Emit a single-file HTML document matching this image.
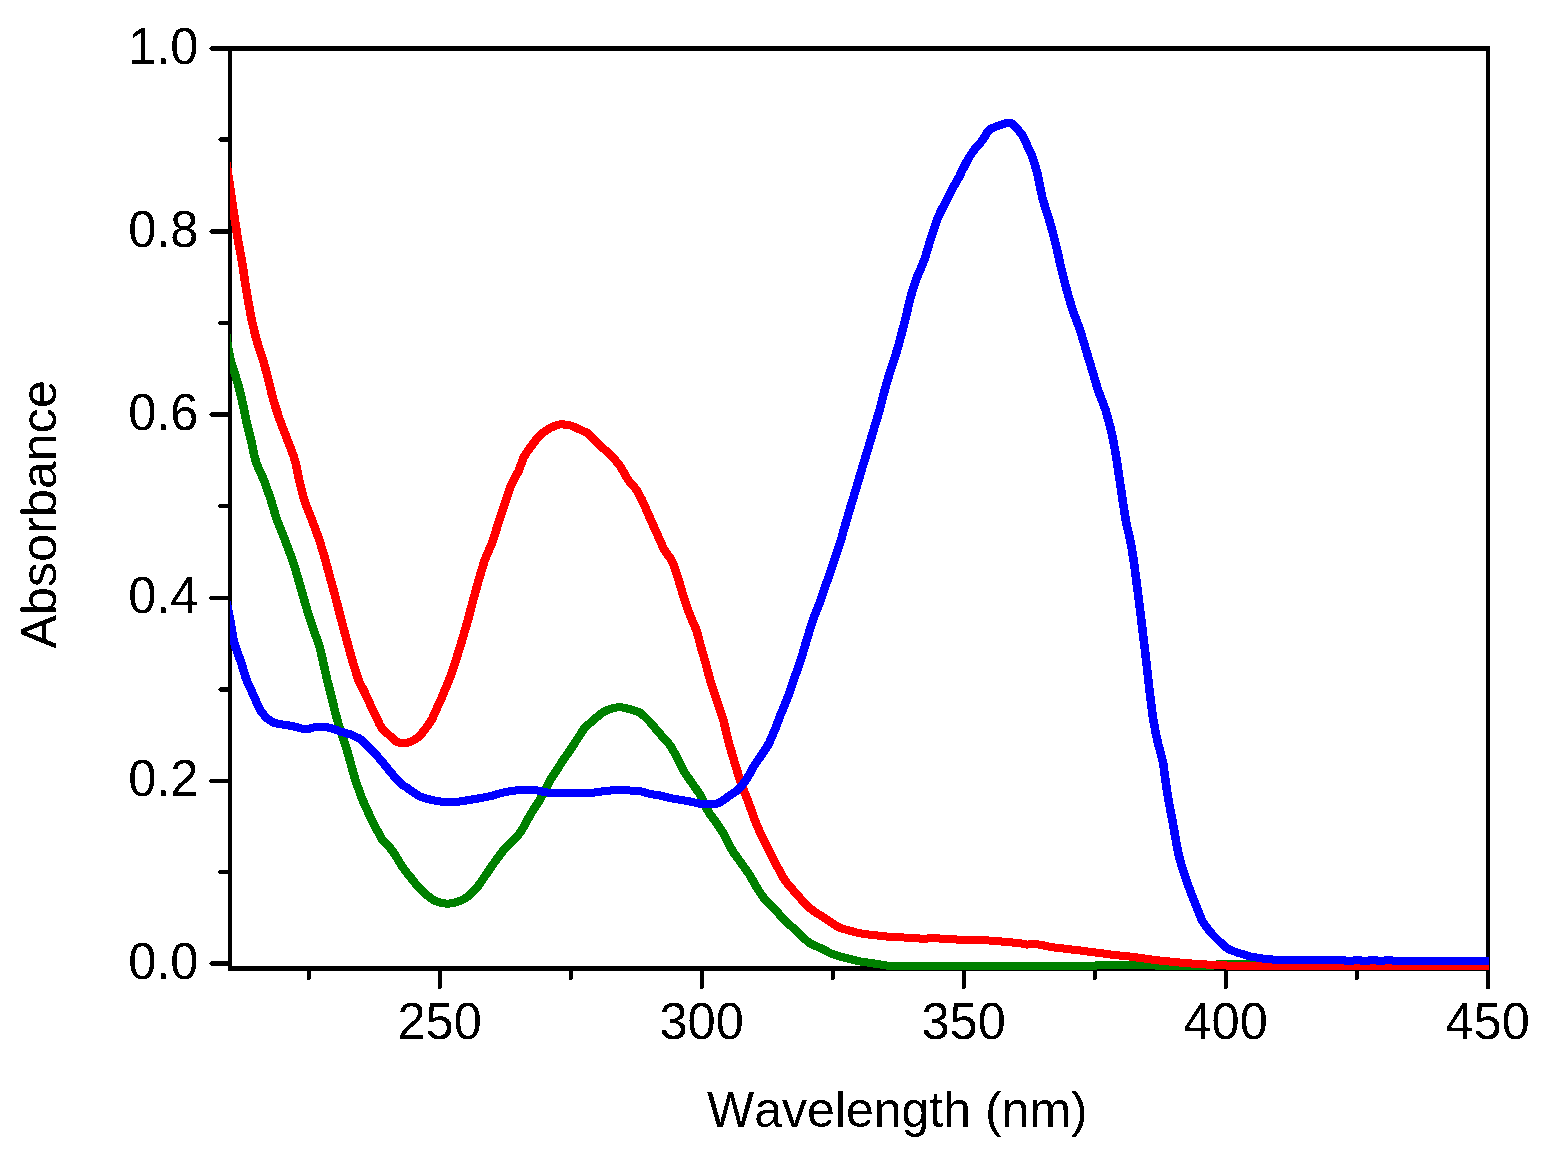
<!DOCTYPE html>
<html lang="en">
<head>
<meta charset="utf-8">
<title>Absorbance vs Wavelength</title>
<style>
html,body{margin:0;padding:0;background:#fff;}
body{width:1550px;height:1157px;overflow:hidden;}
svg{display:block;}
svg text{font-family:"Liberation Sans",Arial,Helvetica,sans-serif;font-size:50.6px;fill:#000;font-kerning:none;}
svg text.ttl{font-size:50.3px;}
svg text.xl{font-size:50px;}
.curve{fill:none;stroke-width:8;stroke-linejoin:round;stroke-linecap:butt;}
</style>
</head>
<body>
<svg width="1550" height="1157" viewBox="0 0 1550 1157">
<rect x="0" y="0" width="1550" height="1157" fill="#fff"/>
<defs>
<clipPath id="plotclip"><rect x="230" y="46" width="1259" height="926"/></clipPath>
<filter id="alias" x="0" y="0" width="1550" height="1157" filterUnits="userSpaceOnUse" color-interpolation-filters="sRGB"><feComponentTransfer><feFuncA type="discrete" tableValues="0 1"/></feComponentTransfer></filter>
</defs>
<g fill="#000" shape-rendering="crispEdges">
<rect x="228" y="46" width="1262" height="5"/>
<rect x="228" y="966" width="1262" height="5"/>
<rect x="228" y="46" width="4" height="925"/>
<rect x="1486" y="46" width="4" height="943"/>
<rect x="211" y="46" width="17" height="5"/>
<rect x="210" y="47" width="1" height="3"/>
<rect x="209" y="48" width="1" height="1"/>
<rect x="220" y="137" width="8" height="5"/>
<rect x="219" y="138" width="1" height="3"/>
<rect x="218" y="139" width="1" height="1"/>
<rect x="211" y="229" width="17" height="5"/>
<rect x="210" y="230" width="1" height="3"/>
<rect x="209" y="231" width="1" height="1"/>
<rect x="219" y="321" width="9" height="4"/>
<rect x="218" y="322" width="1" height="2"/>
<rect x="211" y="412" width="17" height="5"/>
<rect x="210" y="413" width="1" height="3"/>
<rect x="209" y="414" width="1" height="1"/>
<rect x="219" y="504" width="9" height="4"/>
<rect x="218" y="505" width="1" height="2"/>
<rect x="210" y="596" width="18" height="4"/>
<rect x="209" y="597" width="1" height="2"/>
<rect x="220" y="687" width="8" height="5"/>
<rect x="219" y="688" width="1" height="3"/>
<rect x="218" y="689" width="1" height="1"/>
<rect x="210" y="779" width="18" height="4"/>
<rect x="209" y="780" width="1" height="2"/>
<rect x="219" y="870" width="9" height="4"/>
<rect x="218" y="871" width="1" height="2"/>
<rect x="211" y="961" width="17" height="5"/>
<rect x="210" y="962" width="1" height="3"/>
<rect x="209" y="963" width="1" height="1"/>
<rect x="307" y="970" width="4" height="9"/>
<rect x="307" y="979" width="3" height="1"/>
<rect x="438" y="970" width="4" height="18"/>
<rect x="438" y="988" width="3" height="1"/>
<rect x="569" y="970" width="4" height="9"/>
<rect x="569" y="979" width="3" height="1"/>
<rect x="700" y="970" width="4" height="18"/>
<rect x="700" y="988" width="3" height="1"/>
<rect x="831" y="970" width="4" height="9"/>
<rect x="831" y="979" width="3" height="1"/>
<rect x="962" y="970" width="4" height="18"/>
<rect x="962" y="988" width="3" height="1"/>
<rect x="1093" y="970" width="4" height="9"/>
<rect x="1093" y="979" width="3" height="1"/>
<rect x="1224" y="970" width="4" height="18"/>
<rect x="1224" y="988" width="3" height="1"/>
<rect x="1355" y="970" width="4" height="9"/>
<rect x="1355" y="979" width="3" height="1"/>

</g>
<g clip-path="url(#plotclip)" shape-rendering="crispEdges">
<polyline id="cg" class="curve" stroke="#008000" points="214.4,288.0 217.0,289.5 219.6,302.3 222.2,314.9 224.9,327.4 227.5,346.0 230.1,359.5 232.7,368.3 235.3,376.1 238.0,385.1 240.6,395.4 243.2,407.2 245.8,420.2 248.4,430.8 251.1,441.6 253.7,454.7 256.3,463.7 258.9,469.7 261.5,475.4 264.2,481.5 266.8,488.9 269.4,496.4 272.0,504.5 274.6,513.3 277.3,521.6 279.9,528.1 282.5,534.6 285.1,541.1 287.7,548.1 290.4,555.1 293.0,562.6 295.6,571.2 298.2,579.9 300.8,589.2 303.5,598.5 306.1,607.4 308.7,616.2 311.3,624.2 313.9,631.6 316.6,639.0 319.2,646.6 321.8,657.3 324.4,669.1 327.0,680.4 329.7,691.0 332.3,701.5 334.9,712.0 337.5,721.9 340.1,729.8 342.8,737.7 345.4,746.0 348.0,754.7 350.6,763.8 353.2,773.7 355.9,782.6 358.5,789.7 361.1,796.8 363.7,803.2 366.3,808.9 369.0,814.7 371.6,820.3 374.2,825.3 376.8,830.2 379.4,835.2 382.1,839.7 384.7,842.2 387.3,845.0 389.9,848.0 392.5,851.6 395.2,855.4 397.8,859.8 400.4,864.1 403.0,868.0 405.6,871.7 408.3,874.9 410.9,878.1 413.5,881.5 416.1,884.6 418.7,887.3 421.4,890.1 424.0,892.8 426.6,895.1 429.2,897.2 431.8,899.1 434.5,900.6 437.1,901.8 439.7,902.5 442.3,903.1 444.9,903.5 447.6,903.7 450.2,903.4 452.8,902.9 455.4,902.3 458.0,901.5 460.7,900.5 463.3,899.2 465.9,897.6 468.5,895.7 471.1,893.4 473.8,890.8 476.4,887.8 479.0,884.5 481.6,880.8 484.2,876.8 486.9,872.9 489.5,869.0 492.1,865.3 494.7,861.6 497.3,858.0 500.0,854.4 502.6,851.0 505.2,847.8 507.8,845.0 510.4,842.4 513.1,840.0 515.7,837.4 518.3,834.5 520.9,831.2 523.5,826.7 526.2,821.5 528.8,816.9 531.4,812.5 534.0,808.4 536.6,804.4 539.3,800.3 541.9,795.6 544.5,790.8 547.1,785.7 549.7,780.5 552.4,776.3 555.0,772.3 557.6,768.3 560.2,764.2 562.8,760.2 565.5,756.4 568.1,752.6 570.7,748.8 573.3,744.8 575.9,740.8 578.6,736.7 581.2,732.6 583.8,728.7 586.4,726.0 589.0,723.7 591.7,721.3 594.3,719.0 596.9,716.9 599.5,714.8 602.1,712.7 604.8,711.1 607.4,710.0 610.0,709.0 612.6,708.2 615.2,707.7 617.9,707.3 620.5,707.2 623.1,707.6 625.7,708.3 628.3,708.9 631.0,709.6 633.6,710.4 636.2,711.2 638.8,712.1 641.4,713.8 644.1,716.4 646.7,719.0 649.3,721.6 651.9,724.6 654.5,727.7 657.2,730.9 659.8,734.0 662.4,736.9 665.0,739.8 667.6,742.7 670.3,745.9 672.9,750.5 675.5,755.3 678.1,760.5 680.7,765.7 683.4,771.0 686.0,775.1 688.6,778.7 691.2,782.3 693.8,786.1 696.5,789.8 699.1,793.6 701.7,798.4 704.3,804.0 706.9,809.6 709.6,814.1 712.2,817.5 714.8,821.0 717.4,824.7 720.0,828.7 722.7,832.7 725.3,837.5 727.9,842.6 730.5,847.7 733.1,852.3 735.8,856.0 738.4,859.6 741.0,863.2 743.6,866.8 746.2,870.4 748.9,874.2 751.5,878.8 754.1,883.4 756.7,887.9 759.3,891.9 762.0,895.8 764.6,899.4 767.2,902.2 769.8,904.8 772.4,907.4 775.1,910.1 777.7,912.9 780.3,915.8 782.9,918.7 785.5,921.4 788.2,923.8 790.8,926.1 793.4,928.5 796.0,931.0 798.6,933.5 801.3,936.0 803.9,938.5 806.5,940.7 809.1,942.8 811.7,944.4 814.4,945.7 817.0,946.7 819.6,947.8 822.2,949.0 824.8,950.4 827.5,951.8 830.1,953.1 832.7,954.2 835.3,955.0 837.9,955.9 840.6,956.7 843.2,957.4 845.8,958.1 848.4,958.7 851.0,959.4 853.7,960.0 856.3,960.7 858.9,961.3 861.5,961.7 864.1,962.1 866.8,962.5 869.4,962.8 872.0,963.2 874.6,963.7 877.2,964.1 879.9,964.5 882.5,964.9 885.1,965.3 887.7,965.7 890.3,965.9 893.0,965.9 895.6,965.8 898.2,965.7 900.8,965.7 903.4,965.7 906.1,965.9 908.7,965.9 911.3,966.0 913.9,966.0 916.5,966.0 919.2,966.0 921.8,966.0 924.4,966.0 927.0,966.0 929.6,966.0 932.3,966.0 934.9,966.0 937.5,966.0 940.1,966.0 942.7,966.0 945.4,966.0 948.0,966.0 950.6,966.0 953.2,966.0 955.8,966.0 958.5,966.0 961.1,966.0 963.7,966.0 966.3,966.0 968.9,966.0 971.6,966.0 974.2,966.0 976.8,966.0 979.4,966.0 982.0,966.0 984.7,966.0 987.3,966.0 989.9,966.0 992.5,966.0 995.1,966.0 997.8,966.0 1000.4,966.0 1003.0,966.0 1005.6,966.0 1008.2,966.0 1010.9,966.0 1013.5,966.0 1016.1,966.0 1018.7,966.0 1021.3,966.0 1024.0,966.0 1026.6,966.0 1029.2,966.0 1031.8,966.0 1034.4,966.0 1037.1,966.0 1039.7,966.0 1042.3,966.0 1044.9,966.0 1047.5,966.0 1050.2,966.0 1052.8,966.0 1055.4,966.0 1058.0,966.0 1060.6,966.0 1063.3,966.0 1065.9,966.0 1068.5,966.0 1071.1,966.0 1073.7,966.0 1076.4,966.0 1079.0,966.0 1081.6,966.0 1084.2,966.0 1086.8,966.0 1089.5,966.0 1092.1,966.0 1094.7,965.7 1097.3,965.2 1099.9,965.0 1102.6,965.0 1105.2,965.0 1107.8,965.0 1110.4,965.0 1113.0,965.0 1115.7,965.0 1118.3,965.0 1120.9,965.0 1123.5,965.0 1126.1,965.0 1128.8,965.0 1131.4,965.0 1134.0,965.0 1136.6,965.0 1139.2,965.0 1141.9,965.0 1144.5,965.0 1147.1,965.0 1149.7,965.1 1152.3,965.3 1155.0,965.5 1157.6,965.8 1160.2,966.0 1162.8,966.0 1165.4,966.0 1168.1,966.0 1170.7,966.0 1173.3,966.0 1175.9,966.0 1178.5,966.0 1181.2,966.0 1183.8,966.0 1186.4,966.0 1189.0,966.0 1191.6,966.0 1194.3,966.0 1196.9,966.0 1199.5,966.0 1202.1,966.0 1204.7,966.0 1207.4,966.0 1210.0,966.0 1212.6,965.6 1215.2,964.8 1217.8,964.3 1220.5,964.2 1223.1,964.2 1225.7,964.2 1228.3,964.2 1230.9,964.2 1233.6,964.2 1236.2,964.2 1238.8,964.2 1241.4,964.2 1244.0,964.2 1246.7,964.2 1249.3,964.2 1251.9,964.4 1254.5,965.0 1257.1,965.7 1259.8,966.0 1262.4,966.0 1265.0,966.0 1267.6,966.0 1270.2,966.0 1272.9,966.0 1275.5,966.0 1278.1,966.0 1280.7,966.0 1283.3,966.0 1286.0,966.0 1288.6,966.0 1291.2,966.0 1293.8,966.0 1296.4,966.0 1299.1,966.0 1301.7,966.0 1304.3,966.0 1306.9,966.0 1309.5,966.0 1312.2,966.0 1314.8,966.0 1317.4,966.0 1320.0,966.0 1322.6,966.0 1325.3,966.0 1327.9,966.0 1330.5,966.0 1333.1,966.0 1335.7,966.0 1338.4,966.0 1341.0,966.0 1343.6,966.0 1346.2,966.0 1348.8,966.0 1351.5,966.0 1354.1,966.0 1356.7,966.0 1359.3,966.0 1361.9,966.0 1364.6,966.0 1367.2,966.0 1369.8,966.0 1372.4,966.0 1375.0,966.0 1377.7,966.0 1380.3,966.0 1382.9,966.0 1385.5,966.0 1388.1,966.0 1390.8,966.0 1393.4,966.0 1396.0,966.0 1398.6,966.0 1401.2,966.0 1403.9,966.0 1406.5,966.0 1409.1,966.0 1411.7,966.0 1414.3,966.0 1417.0,966.0 1419.6,966.0 1422.2,966.0 1424.8,966.0 1427.4,966.0 1430.1,966.0 1432.7,966.0 1435.3,966.0 1437.9,966.0 1440.5,966.0 1443.2,966.0 1445.8,966.0 1448.4,966.0 1451.0,966.0 1453.6,966.0 1456.3,966.0 1458.9,966.0 1461.5,966.0 1464.1,966.0 1466.7,966.0 1469.4,966.0 1472.0,966.0 1474.6,966.0 1477.2,966.0 1479.8,966.0 1482.5,966.0 1485.1,966.0 1487.7,966.0 1490.3,966.0 1492.9,966.0 1495.6,966.0"/>
<use href="#cg" x="0.6"/>
<polyline id="cr" class="curve" stroke="#ff0000" points="214.4,100.0 217.0,102.1 219.6,120.1 222.2,138.0 224.9,155.7 227.5,172.6 230.1,189.4 232.7,207.7 235.3,224.9 238.0,242.1 240.6,255.5 243.2,271.3 245.8,289.1 248.4,304.0 251.1,318.6 253.7,329.8 256.3,340.2 258.9,348.3 261.5,356.3 264.2,365.1 266.8,374.8 269.4,385.1 272.0,396.1 274.6,405.2 277.3,413.3 279.9,421.1 282.5,427.9 285.1,434.7 287.7,441.5 290.4,448.4 293.0,455.2 295.6,463.8 298.2,477.0 300.8,488.2 303.5,498.6 306.1,505.9 308.7,512.5 311.3,519.1 313.9,526.1 316.6,533.3 319.2,540.5 321.8,549.1 324.4,557.7 327.0,567.3 329.7,577.3 332.3,586.8 334.9,596.2 337.5,606.2 340.1,616.7 342.8,626.7 345.4,636.4 348.0,645.9 350.6,655.3 353.2,664.4 355.9,673.0 358.5,680.9 361.1,685.9 363.7,690.9 366.3,696.5 369.0,702.2 371.6,708.3 374.2,713.7 376.8,718.8 379.4,724.5 382.1,728.7 384.7,731.2 387.3,733.7 389.9,736.1 392.5,738.5 395.2,740.9 397.8,742.3 400.4,742.8 403.0,742.9 405.6,742.9 408.3,742.5 410.9,741.3 413.5,740.0 416.1,738.5 418.7,736.5 421.4,733.5 424.0,730.3 426.6,726.7 429.2,723.1 431.8,719.0 434.5,712.9 437.1,707.1 439.7,701.7 442.3,695.4 444.9,689.0 447.6,682.9 450.2,676.1 452.8,668.6 455.4,661.1 458.0,652.5 460.7,643.7 463.3,634.9 465.9,626.2 468.5,617.0 471.1,606.6 473.8,596.7 476.4,587.3 479.0,578.1 481.6,569.3 484.2,560.7 486.9,554.3 489.5,548.2 492.1,542.1 494.7,534.1 497.3,525.4 500.0,516.8 502.6,509.1 505.2,501.3 507.8,493.5 510.4,486.3 513.1,480.7 515.7,475.5 518.3,471.2 520.9,464.1 523.5,457.2 526.2,452.6 528.8,449.1 531.4,445.6 534.0,442.2 536.6,438.7 539.3,435.4 541.9,433.2 544.5,431.4 547.1,429.6 549.7,427.9 552.4,426.8 555.0,425.8 557.6,424.9 560.2,424.3 562.8,424.4 565.5,424.7 568.1,425.0 570.7,425.6 573.3,426.7 575.9,427.9 578.6,429.1 581.2,430.2 583.8,431.4 586.4,432.5 589.0,434.5 591.7,437.4 594.3,440.3 596.9,443.0 599.5,445.4 602.1,447.7 604.8,450.0 607.4,452.2 610.0,454.5 612.6,457.1 615.2,460.3 617.9,463.6 620.5,467.1 623.1,471.7 625.7,476.3 628.3,480.5 631.0,483.6 633.6,486.6 636.2,489.8 638.8,494.5 641.4,499.3 644.1,505.1 646.7,511.2 649.3,517.2 651.9,523.1 654.5,528.9 657.2,534.8 659.8,540.7 662.4,546.6 665.0,551.5 667.6,555.0 670.3,558.4 672.9,564.0 675.5,571.7 678.1,579.3 680.7,588.1 683.4,597.0 686.0,605.0 688.6,612.2 691.2,618.7 693.8,624.7 696.5,631.0 699.1,641.3 701.7,650.9 704.3,659.4 706.9,669.2 709.6,679.2 712.2,687.2 714.8,695.0 717.4,702.8 720.0,710.7 722.7,718.7 725.3,729.4 727.9,740.6 730.5,749.6 733.1,758.5 735.8,767.3 738.4,776.1 741.0,783.8 743.6,790.5 746.2,797.1 748.9,804.2 751.5,811.7 754.1,819.2 756.7,825.4 759.3,831.3 762.0,837.2 764.6,842.7 767.2,847.9 769.8,853.1 772.4,858.3 775.1,863.2 777.7,868.0 780.3,872.8 782.9,877.6 785.5,881.6 788.2,884.7 790.8,887.7 793.4,890.8 796.0,893.8 798.6,896.8 801.3,899.7 803.9,902.7 806.5,905.5 809.1,907.8 811.7,909.8 814.4,911.7 817.0,913.5 819.6,915.0 822.2,916.6 824.8,918.4 827.5,920.3 830.1,922.0 832.7,923.7 835.3,925.3 837.9,926.9 840.6,928.1 843.2,928.9 845.8,929.7 848.4,930.4 851.0,931.1 853.7,931.8 856.3,932.5 858.9,933.1 861.5,933.6 864.1,934.0 866.8,934.4 869.4,934.7 872.0,935.0 874.6,935.3 877.2,935.5 879.9,935.8 882.5,936.1 885.1,936.4 887.7,936.7 890.3,937.0 893.0,937.1 895.6,937.2 898.2,937.3 900.8,937.4 903.4,937.5 906.1,937.6 908.7,937.8 911.3,937.9 913.9,938.1 916.5,938.3 919.2,938.5 921.8,938.6 924.4,938.7 927.0,938.5 929.6,938.2 932.3,938.1 934.9,938.2 937.5,938.4 940.1,938.6 942.7,938.8 945.4,939.0 948.0,939.2 950.6,939.4 953.2,939.4 955.8,939.5 958.5,939.5 961.1,939.5 963.7,939.6 966.3,939.6 968.9,939.7 971.6,939.7 974.2,939.7 976.8,939.8 979.4,939.8 982.0,940.0 984.7,940.2 987.3,940.4 989.9,940.6 992.5,940.8 995.1,941.0 997.8,941.2 1000.4,941.4 1003.0,941.7 1005.6,941.9 1008.2,942.1 1010.9,942.4 1013.5,942.6 1016.1,942.8 1018.7,943.1 1021.3,943.5 1024.0,944.2 1026.6,944.6 1029.2,944.4 1031.8,944.2 1034.4,944.2 1037.1,944.4 1039.7,944.7 1042.3,945.2 1044.9,945.8 1047.5,946.4 1050.2,946.9 1052.8,947.3 1055.4,947.6 1058.0,947.9 1060.6,948.2 1063.3,948.5 1065.9,948.8 1068.5,949.2 1071.1,949.5 1073.7,949.8 1076.4,950.1 1079.0,950.4 1081.6,950.7 1084.2,951.1 1086.8,951.5 1089.5,951.9 1092.1,952.2 1094.7,952.5 1097.3,952.7 1099.9,953.0 1102.6,953.4 1105.2,953.7 1107.8,954.1 1110.4,954.5 1113.0,954.8 1115.7,955.1 1118.3,955.4 1120.9,955.7 1123.5,955.9 1126.1,956.2 1128.8,956.4 1131.4,956.8 1134.0,957.1 1136.6,957.5 1139.2,957.9 1141.9,958.2 1144.5,958.6 1147.1,958.9 1149.7,959.3 1152.3,959.6 1155.0,959.9 1157.6,960.3 1160.2,960.6 1162.8,960.9 1165.4,961.1 1168.1,961.4 1170.7,961.7 1173.3,961.9 1175.9,962.2 1178.5,962.4 1181.2,962.7 1183.8,962.9 1186.4,963.1 1189.0,963.3 1191.6,963.5 1194.3,963.7 1196.9,963.9 1199.5,964.1 1202.1,964.3 1204.7,964.4 1207.4,964.6 1210.0,964.7 1212.6,964.8 1215.2,965.0 1217.8,965.1 1220.5,965.2 1223.1,965.3 1225.7,965.5 1228.3,965.6 1230.9,965.8 1233.6,965.9 1236.2,966.0 1238.8,966.0 1241.4,966.0 1244.0,966.0 1246.7,966.0 1249.3,966.0 1251.9,966.0 1254.5,966.0 1257.1,966.0 1259.8,966.0 1262.4,966.0 1265.0,966.0 1267.6,966.0 1270.2,966.0 1272.9,966.0 1275.5,966.0 1278.1,966.0 1280.7,966.0 1283.3,966.0 1286.0,966.0 1288.6,966.0 1291.2,966.0 1293.8,966.0 1296.4,966.0 1299.1,966.0 1301.7,966.0 1304.3,966.0 1306.9,966.0 1309.5,966.0 1312.2,966.0 1314.8,966.0 1317.4,966.0 1320.0,966.0 1322.6,966.0 1325.3,966.0 1327.9,966.0 1330.5,966.0 1333.1,966.0 1335.7,966.0 1338.4,966.0 1341.0,966.0 1343.6,966.0 1346.2,966.0 1348.8,966.0 1351.5,966.0 1354.1,966.0 1356.7,966.0 1359.3,966.0 1361.9,966.0 1364.6,966.0 1367.2,966.0 1369.8,966.0 1372.4,966.0 1375.0,966.0 1377.7,966.0 1380.3,966.0 1382.9,966.0 1385.5,966.0 1388.1,966.0 1390.8,966.0 1393.4,966.0 1396.0,966.0 1398.6,966.0 1401.2,966.0 1403.9,966.0 1406.5,966.0 1409.1,966.0 1411.7,966.0 1414.3,966.0 1417.0,966.0 1419.6,966.0 1422.2,966.0 1424.8,966.0 1427.4,966.0 1430.1,966.0 1432.7,966.0 1435.3,966.0 1437.9,966.0 1440.5,966.0 1443.2,966.0 1445.8,966.0 1448.4,966.0 1451.0,966.0 1453.6,966.0 1456.3,966.0 1458.9,966.0 1461.5,966.0 1464.1,966.0 1466.7,966.0 1469.4,966.0 1472.0,966.0 1474.6,966.0 1477.2,966.0 1479.8,966.0 1482.5,966.0 1485.1,966.0 1487.7,966.0 1490.3,966.0 1492.9,966.0 1495.6,966.0"/>
<use href="#cr" x="0.6"/>
<polyline id="cb" class="curve" stroke="#0000ff" points="214.4,566.0 217.0,566.0 219.6,570.9 222.2,584.5 224.9,596.4 227.5,608.7 230.1,621.2 232.7,637.7 235.3,647.5 238.0,654.8 240.6,661.6 243.2,670.3 245.8,678.9 248.4,685.1 251.1,690.7 253.7,696.5 256.3,702.5 258.9,708.1 261.5,712.4 264.2,715.6 266.8,718.3 269.4,720.3 272.0,722.0 274.6,723.1 277.3,723.6 279.9,724.1 282.5,724.5 285.1,724.8 287.7,725.3 290.4,725.8 293.0,726.3 295.6,726.9 298.2,727.7 300.8,728.4 303.5,728.9 306.1,729.1 308.7,728.9 311.3,727.9 313.9,727.3 316.6,727.1 319.2,727.0 321.8,726.9 324.4,727.0 327.0,727.4 329.7,727.9 332.3,728.6 334.9,729.6 337.5,730.6 340.1,731.6 342.8,732.3 345.4,733.1 348.0,733.8 350.6,734.6 353.2,735.8 355.9,737.0 358.5,738.2 361.1,740.0 363.7,742.5 366.3,745.1 369.0,747.8 371.6,750.5 374.2,753.2 376.8,756.0 379.4,758.8 382.1,762.0 384.7,765.2 387.3,768.5 389.9,771.7 392.5,774.8 395.2,777.8 397.8,780.7 400.4,783.5 403.0,785.4 405.6,787.1 408.3,788.9 410.9,790.7 413.5,792.4 416.1,794.2 418.7,796.0 421.4,797.2 424.0,798.0 426.6,798.7 429.2,799.4 431.8,800.0 434.5,800.5 437.1,801.1 439.7,801.5 442.3,801.8 444.9,801.9 447.6,802.0 450.2,802.0 452.8,801.9 455.4,801.8 458.0,801.6 460.7,801.4 463.3,801.0 465.9,800.5 468.5,800.0 471.1,799.6 473.8,799.2 476.4,798.7 479.0,798.3 481.6,797.8 484.2,797.3 486.9,796.8 489.5,796.3 492.1,795.6 494.7,794.8 497.3,794.0 500.0,793.3 502.6,792.7 505.2,792.1 507.8,791.6 510.4,791.2 513.1,790.8 515.7,790.5 518.3,790.2 520.9,790.1 523.5,790.0 526.2,790.0 528.8,790.1 531.4,790.1 534.0,790.1 536.6,790.4 539.3,790.9 541.9,791.6 544.5,792.2 547.1,792.5 549.7,792.6 552.4,792.7 555.0,792.7 557.6,792.8 560.2,792.9 562.8,792.9 565.5,793.0 568.1,793.1 570.7,793.1 573.3,793.0 575.9,793.0 578.6,792.9 581.2,792.8 583.8,792.8 586.4,792.7 589.0,792.7 591.7,792.6 594.3,792.5 596.9,792.3 599.5,791.8 602.1,791.3 604.8,790.9 607.4,790.7 610.0,790.5 612.6,790.4 615.2,790.2 617.9,790.0 620.5,790.0 623.1,790.1 625.7,790.2 628.3,790.4 631.0,790.6 633.6,790.7 636.2,790.9 638.8,791.1 641.4,791.6 644.1,792.3 646.7,793.1 649.3,793.8 651.9,794.4 654.5,794.7 657.2,795.1 659.8,795.5 662.4,796.1 665.0,796.8 667.6,797.5 670.3,798.1 672.9,798.6 675.5,799.1 678.1,799.5 680.7,800.0 683.4,800.4 686.0,800.8 688.6,801.3 691.2,801.8 693.8,802.4 696.5,803.0 699.1,803.6 701.7,803.9 704.3,804.0 706.9,804.0 709.6,804.1 712.2,803.9 714.8,803.8 717.4,803.4 720.0,802.2 722.7,800.4 725.3,798.5 727.9,796.7 730.5,794.9 733.1,793.1 735.8,791.3 738.4,789.2 741.0,786.1 743.6,782.8 746.2,779.4 748.9,774.7 751.5,769.8 754.1,765.3 756.7,761.5 759.3,757.8 762.0,753.9 764.6,750.0 767.2,746.0 769.8,740.9 772.4,734.8 775.1,728.5 777.7,721.6 780.3,714.6 782.9,708.4 785.5,702.3 788.2,695.2 790.8,687.7 793.4,680.2 796.0,672.7 798.6,665.2 801.3,657.3 803.9,648.5 806.5,639.8 809.1,631.2 811.7,622.6 814.4,615.4 817.0,608.8 819.6,602.3 822.2,594.9 824.8,587.1 827.5,579.2 830.1,571.4 832.7,563.8 835.3,556.2 837.9,548.6 840.6,540.6 843.2,530.7 845.8,521.9 848.4,513.1 851.0,504.4 853.7,495.6 856.3,486.9 858.9,478.1 861.5,469.3 864.1,460.6 866.8,451.9 869.4,443.1 872.0,434.3 874.6,425.6 877.2,417.1 879.9,408.0 882.5,397.5 885.1,387.5 887.7,378.8 890.3,370.1 893.0,362.1 895.6,354.1 898.2,345.3 900.8,335.6 903.4,325.6 906.1,315.2 908.7,303.3 911.3,293.8 913.9,285.1 916.5,277.6 919.2,271.6 921.8,265.5 924.4,259.0 927.0,250.3 929.6,241.6 932.3,233.3 934.9,225.1 937.5,217.9 940.1,212.2 942.7,207.1 945.4,202.2 948.0,196.9 950.6,191.2 953.2,186.6 955.8,182.3 958.5,177.5 961.1,172.2 963.7,167.0 966.3,161.8 968.9,157.3 971.6,153.2 974.2,149.5 976.8,146.5 979.4,143.6 982.0,140.5 984.7,136.2 987.3,131.7 989.9,129.3 992.5,127.9 995.1,126.8 997.8,125.8 1000.4,124.8 1003.0,123.9 1005.6,123.2 1008.2,122.6 1010.9,123.0 1013.5,125.4 1016.1,128.1 1018.7,131.0 1021.3,134.2 1024.0,138.9 1026.6,144.7 1029.2,150.4 1031.8,156.2 1034.4,164.2 1037.1,173.7 1039.7,186.1 1042.3,199.0 1044.9,207.2 1047.5,215.2 1050.2,224.3 1052.8,233.8 1055.4,244.1 1058.0,255.3 1060.6,267.1 1063.3,278.1 1065.9,288.0 1068.5,297.1 1071.1,306.0 1073.7,314.0 1076.4,321.0 1079.0,327.9 1081.6,336.1 1084.2,344.8 1086.8,353.6 1089.5,362.4 1092.1,371.1 1094.7,379.9 1097.3,388.6 1099.9,395.9 1102.6,402.8 1105.2,409.8 1107.8,419.0 1110.4,428.6 1113.0,441.1 1115.7,455.5 1118.3,472.9 1120.9,490.5 1123.5,508.0 1126.1,523.9 1128.8,535.0 1131.4,548.2 1134.0,564.7 1136.6,585.0 1139.2,605.6 1141.9,627.5 1144.5,648.6 1147.1,671.4 1149.7,694.8 1152.3,715.4 1155.0,730.7 1157.6,743.0 1160.2,752.1 1162.8,762.6 1165.4,782.4 1168.1,799.8 1170.7,813.1 1173.3,827.3 1175.9,842.4 1178.5,855.5 1181.2,865.4 1183.8,873.3 1186.4,881.2 1189.0,888.2 1191.6,895.2 1194.3,902.1 1196.9,908.6 1199.5,915.2 1202.1,921.1 1204.7,924.9 1207.4,928.5 1210.0,932.1 1212.6,934.9 1215.2,937.5 1217.8,940.1 1220.5,942.7 1223.1,945.0 1225.7,947.3 1228.3,949.3 1230.9,950.4 1233.6,951.3 1236.2,952.2 1238.8,953.1 1241.4,953.9 1244.0,954.7 1246.7,955.5 1249.3,956.3 1251.9,956.8 1254.5,957.3 1257.1,957.7 1259.8,958.1 1262.4,958.5 1265.0,958.8 1267.6,959.1 1270.2,959.3 1272.9,959.6 1275.5,959.8 1278.1,960.0 1280.7,960.0 1283.3,960.0 1286.0,960.0 1288.6,960.0 1291.2,960.0 1293.8,960.0 1296.4,960.0 1299.1,960.0 1301.7,960.0 1304.3,960.0 1306.9,960.0 1309.5,960.0 1312.2,960.0 1314.8,960.0 1317.4,960.0 1320.0,960.0 1322.6,960.0 1325.3,960.0 1327.9,960.0 1330.5,960.0 1333.1,960.0 1335.7,960.0 1338.4,960.0 1341.0,960.0 1343.6,960.3 1346.2,960.8 1348.8,961.0 1351.5,960.8 1354.1,960.3 1356.7,960.0 1359.3,960.2 1361.9,960.7 1364.6,961.0 1367.2,960.9 1369.8,960.3 1372.4,960.0 1375.0,960.1 1377.7,960.7 1380.3,961.0 1382.9,960.7 1385.5,960.2 1388.1,960.0 1390.8,960.2 1393.4,960.8 1396.0,961.0 1398.6,961.0 1401.2,961.0 1403.9,961.0 1406.5,961.0 1409.1,961.0 1411.7,961.0 1414.3,961.0 1417.0,961.0 1419.6,961.0 1422.2,961.0 1424.8,961.0 1427.4,961.0 1430.1,961.0 1432.7,961.0 1435.3,961.0 1437.9,961.0 1440.5,961.0 1443.2,961.0 1445.8,961.0 1448.4,961.0 1451.0,961.0 1453.6,961.0 1456.3,961.0 1458.9,961.0 1461.5,961.0 1464.1,961.0 1466.7,961.0 1469.4,961.0 1472.0,961.0 1474.6,961.0 1477.2,961.0 1479.8,961.0 1482.5,961.0 1485.1,961.0 1487.7,961.0 1490.3,961.0 1492.9,961.0 1495.6,961.0"/>
<use href="#cb" x="0.6"/>
</g>
<g filter="url(#alias)">
<text transform="translate(198.5 979.2) scale(1 1.03)" text-anchor="end">0.0</text>
<text transform="translate(198.5 796.1) scale(1 1.03)" text-anchor="end">0.2</text>
<text transform="translate(198.5 613.1) scale(1 1.03)" text-anchor="end">0.4</text>
<text transform="translate(198.5 430.0) scale(1 1.03)" text-anchor="end">0.6</text>
<text transform="translate(198.5 247.0) scale(1 1.03)" text-anchor="end">0.8</text>
<text transform="translate(198.5 63.9) scale(1 1.03)" text-anchor="end">1.0</text>
<text transform="translate(439.6 1039.3) scale(1 1.03)" text-anchor="middle">250</text>
<text transform="translate(701.6 1039.3) scale(1 1.03)" text-anchor="middle">300</text>
<text transform="translate(963.6 1039.3) scale(1 1.03)" text-anchor="middle">350</text>
<text transform="translate(1225.6 1039.3) scale(1 1.03)" text-anchor="middle">400</text>
<text transform="translate(1487.6 1039.3) scale(1 1.03)" text-anchor="middle">450</text>
<text class="ttl xl" transform="translate(707.0 1126.8)" text-anchor="start">Wavelength (nm)</text>
<text class="ttl" transform="translate(56.3 514.4) rotate(-90)" text-anchor="middle">Absorbance</text>
</g>
</svg>
</body>
</html>
